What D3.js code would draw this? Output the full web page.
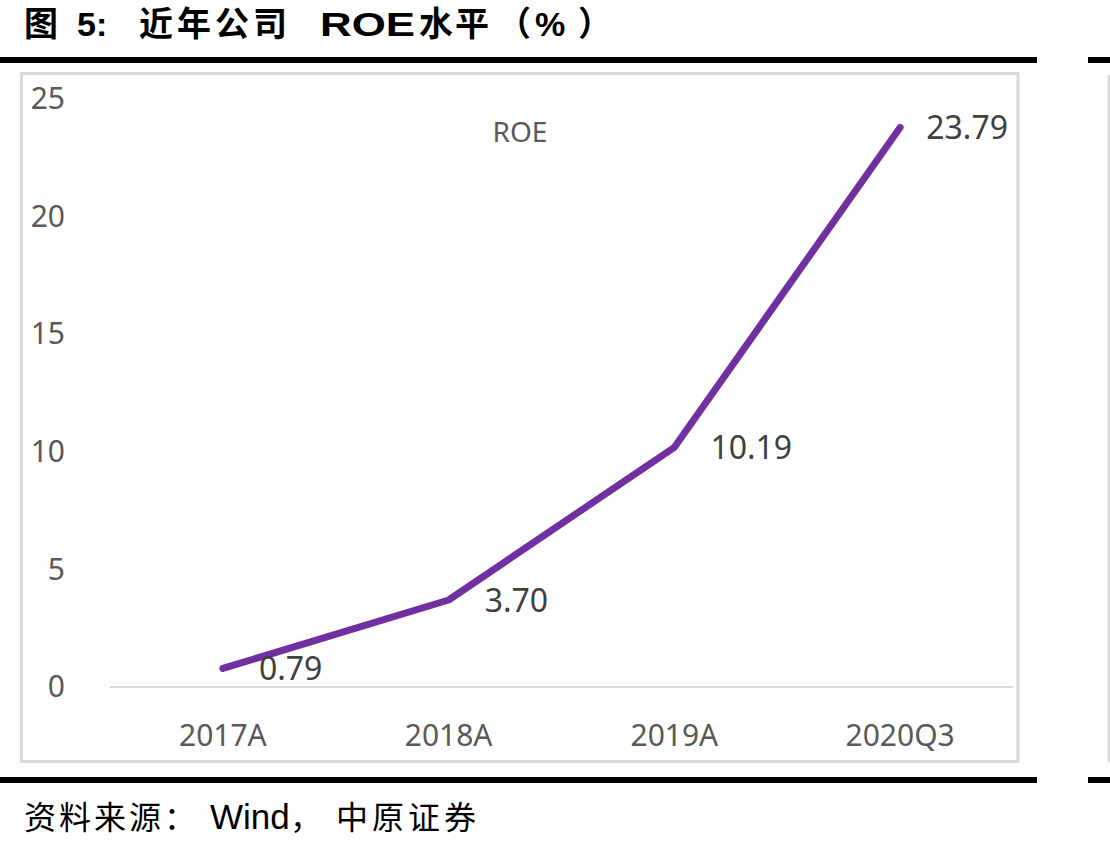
<!DOCTYPE html>
<html>
<head>
<meta charset="utf-8">
<script src="https://cdn.jsdelivr.net/npm/d3@7"></script>
<style>
  body { margin: 0; background: #fff; }
  svg text { font-family: "Noto Sans", "Noto Sans CJK SC", sans-serif; }
</style>
</head>
<body>
<div id="root"></div>
<script>
// chart data
const categories = ["2017A", "2018A", "2019A", "2020Q3"];
const roeValues = [0.79, 3.70, 10.19, 23.79];
const yTicks = [0, 5, 10, 15, 20, 25];
const seriesName = "ROE";
// title and source split into runs, each with its own start x
const titleParts = [
	{t: "图", x: 24},
	{t: "5:", x: 77},
	{t: "近年公司", x: 139, ls: 4},
	{t: "ROE", x: 320, len: 95},
	{t: "水平", x: 419, ls: 2},
	{t: "（", x: 497},
	{t: "%", x: 535},
	{t: "）", x: 578}
];
const sourceParts = [
	{t: "资料来源：", x: 24, ls: 3},
	{t: "Wind", x: 210, size: 35},
	{t: "，", x: 290},
	{t: "中原证券", x: 336, ls: 4}
];

function addRuns(sel, parts) {
	parts.forEach(p => {
		let s = sel.append("tspan").attr("x", p.x).text(p.t);
		if (p.ls) s.attr("letter-spacing", p.ls);
		if (p.size) s.attr("font-size", p.size);
		if (p.len) s.attr("textLength", p.len).attr("lengthAdjust", "spacingAndGlyphs");
	});
}

function drawChart() {
	const width = 1110;
	const height = 849;
	const plot = {left: 110, right: 1013, top: 99, bottom: 687};
	const frameRight = 1018;

	let svg = d3.select("#root")
				.append("svg")
				.attr("width", width)
				.attr("height", height);

	// title
	let title = svg.append("text")
		.attr("y", 36)
		.attr("font-size", 34)
		.attr("font-weight", "bold")
		.style("font-family", "'Liberation Sans', 'Noto Sans CJK SC', sans-serif")
		.attr("fill", "#000");
	addRuns(title, titleParts);

	// black rules top and bottom (split, as in the report layout)
	[57, 777].forEach(y => {
		svg.append("rect").attr("x", 0).attr("y", y).attr("width", 1037).attr("height", 6).attr("fill", "#000");
		svg.append("rect").attr("x", 1088).attr("y", y).attr("width", 22).attr("height", 6).attr("fill", "#000");
	});

	// chart frame
	svg.append("rect")
		.attr("x", 21.5)
		.attr("y", 73.5)
		.attr("width", frameRight - 21.5)
		.attr("height", 688)
		.attr("fill", "none")
		.attr("stroke", "#d9d9d9")
		.attr("stroke-width", 3);
	// edge of the neighbouring frame
	svg.append("line")
		.attr("x1", 1109).attr("x2", 1109)
		.attr("y1", 75).attr("y2", 762)
		.attr("stroke", "#d9d9d9").attr("stroke-width", 3);

	const x = d3.scaleBand()
		.domain(categories)
		.range([plot.left, plot.right]);

	const y = d3.scaleLinear()
		.domain([0, 25])
		.range([plot.bottom, plot.top]);

	// y axis labels
	let yAxis = svg.append("g")
		.attr("transform", "translate(65,0)")
		.call(d3.axisLeft(y).tickValues(yTicks).tickSize(0).tickPadding(0));
	yAxis.select(".domain").remove();
	yAxis.selectAll("text")
		.attr("font-size", 30)
		.attr("fill", "#595959")
		.style("font-family", "'Noto Sans', sans-serif");

	// baseline
	svg.append("line")
		.attr("x1", plot.left).attr("x2", plot.right)
		.attr("y1", y(0)).attr("y2", y(0))
		.attr("stroke", "#d9d9d9")
		.attr("stroke-width", 2);

	// x axis labels
	let xAxis = svg.append("g")
		.attr("transform", "translate(0," + 725 + ")")
		.call(d3.axisBottom(x).tickSize(0).tickPadding(0));
	xAxis.select(".domain").remove();
	xAxis.selectAll("text")
		.attr("font-size", 30)
		.attr("fill", "#595959")
		.style("font-family", "'Noto Sans', sans-serif");

	// series name
	svg.append("text")
		.attr("x", 520)
		.attr("y", 142)
		.attr("text-anchor", "middle")
		.attr("font-size", 28)
		.attr("fill", "#595959")
		.text(seriesName);

	const points = categories.map((c, i) => ({cat: c, v: roeValues[i]}));
	const cx = d => x(d.cat) + x.bandwidth() / 2;

	svg.append("path")
		.datum(points)
		.attr("fill", "none")
		.attr("stroke", "#7030a0")
		.attr("stroke-width", 7)
		.attr("stroke-linecap", "round")
		.attr("stroke-linejoin", "round")
		.attr("d", d3.line().x(cx).y(d => y(d.v)));

	// value labels, pulled back inside the frame if they would overflow
	svg.selectAll(".value-label")
		.data(points)
		.enter()
		.append("text")
		.attr("class", "value-label")
		.attr("x", d => cx(d) + 36)
		.attr("y", d => y(d.v) + 12)
		.attr("font-size", 32)
		.attr("fill", "#404040")
		.text(d => d.v.toFixed(2))
		.each(function() {
			const w = this.getComputedTextLength();
			const x0 = +this.getAttribute("x");
			if (x0 + w > frameRight - 10) this.setAttribute("x", frameRight - 10 - w);
		});

	// source note
	let src = svg.append("text")
		.attr("y", 829)
		.attr("font-size", 32)
		.attr("fill", "#000")
		.style("font-family", "'Liberation Sans', 'Noto Sans CJK SC', sans-serif");
	addRuns(src, sourceParts);
}

drawChart();
</script>
</body>
</html>
